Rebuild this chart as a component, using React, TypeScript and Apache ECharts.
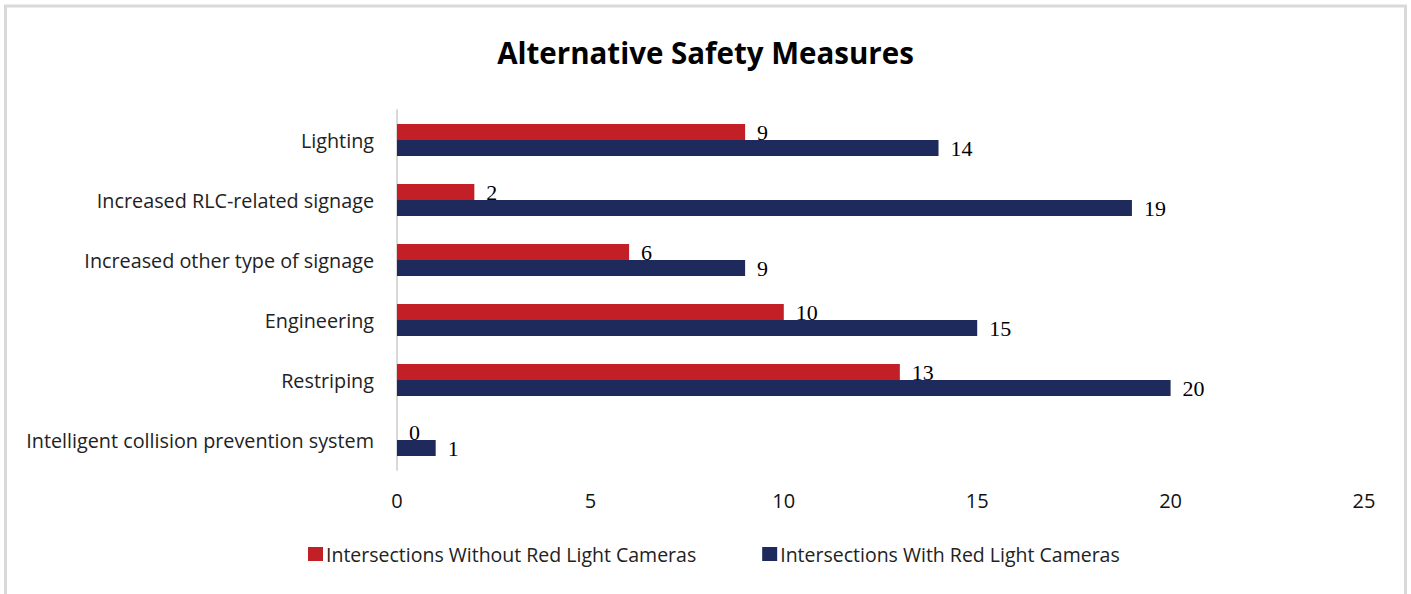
import React, { useEffect, useRef } from "react";
import * as echarts from "echarts";

const categories = [
  "Intelligent collision prevention system",
  "Restriping",
  "Engineering",
  "Increased other type of signage",
  "Increased RLC-related signage",
  "Lighting",
];
const withoutCameras = [0, 13, 10, 6, 2, 9];
const withCameras = [1, 20, 15, 9, 19, 14];
const seriesNames = ["Intersections Without Red Light Cameras", "Intersections With Red Light Cameras"];
const xTicks = { min: 0, max: 25, interval: 5 };

export default function App() {
  const ref = useRef<HTMLDivElement>(null);
  useEffect(() => {
    document.body.style.margin = "0";
    const chart = echarts.init(ref.current!, undefined, { renderer: "svg" });
    const labelStyle = {
      show: true,
      position: "right" as const,
      distance: 12,
      color: "#000",
      fontFamily: "Liberation Serif",
      fontSize: 22,
    };
    chart.setOption({
      animation: false,
      backgroundColor: "#fff",
      title: {
        text: "Alternative Safety Measures",
        left: "center",
        top: 32,
        textStyle: { fontFamily: "Open Sans", fontWeight: "bold", fontSize: 29.5, color: "#000" },
      },
      graphic: [
        {
          type: "rect",
          shape: { x: 5.5, y: 6, width: 1400, height: 640 },
          style: { fill: "none", stroke: "#d9d9d9", lineWidth: 3 },
          silent: true,
        },
      ],
      legend: {
        top: 539,
        left: 303,
        itemWidth: 15,
        itemHeight: 14,
        itemGap: 66,
        icon: "rect",
        textStyle: { fontFamily: "Open Sans", fontSize: 19.5, color: "#222", padding: [0, 0, 0, -2] },
        data: seriesNames,
      },
      grid: { left: 397, right: 47, top: 110, bottom: 124, containLabel: false },
      xAxis: {
        type: "value",
        min: xTicks.min,
        max: xTicks.max,
        interval: xTicks.interval,
        axisLine: { show: false },
        axisTick: { show: false },
        splitLine: { show: false },
        axisLabel: { fontFamily: "Open Sans", fontSize: 20, color: "#111", margin: 20 },
      },
      yAxis: {
        type: "category",
        data: categories,
        axisLine: { show: true, lineStyle: { color: "#d9d9d9", width: 2 } },
        axisTick: { show: false },
        axisLabel: { fontFamily: "Open Sans", fontSize: 19.8, color: "#222", margin: 23 },
      },
      series: [
        {
          name: seriesNames[0],
          type: "bar",
          data: withoutCameras,
          barWidth: 16,
          barGap: "0%",
          itemStyle: { color: "#C21F27" },
          label: labelStyle,
        },
        {
          name: seriesNames[1],
          type: "bar",
          data: withCameras,
          barWidth: 16,
          barGap: "0%",
          itemStyle: { color: "#1F2A5C" },
          label: labelStyle,
        },
      ],
    });
    return () => chart.dispose();
  }, []);
  return <div ref={ref} style={{ width: 1411, height: 594 }} />;
}
